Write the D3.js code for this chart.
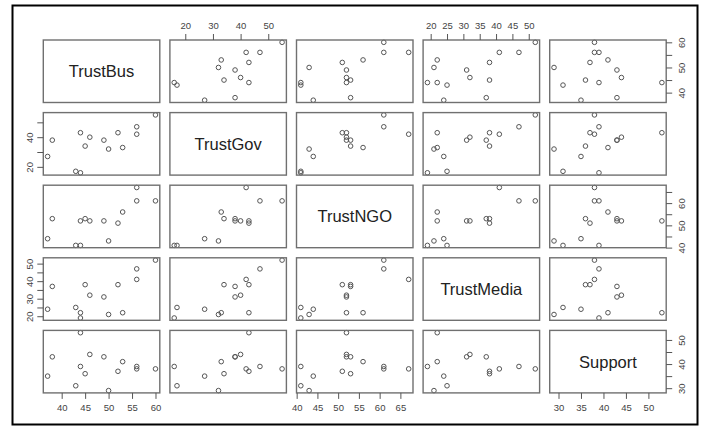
<!DOCTYPE html>
<html>
<head>
<meta charset="utf-8">
<script src="https://cdn.jsdelivr.net/npm/d3@7"></script>
<style>
  html, body { margin: 0; padding: 0; background: #fff; }
  svg { display: block; }
  text { font-family: "Liberation Sans", Arial, sans-serif; }
</style>
</head>
<body>
<svg id="chart" width="704" height="427"></svg>
<script>
// ---- data ----
const varNames = ["TrustBus", "TrustGov", "TrustNGO", "TrustMedia", "Support"];
const trustBus   = [37, 38, 43, 44, 44, 45, 46, 49, 50, 52, 53, 56, 56, 60];
const trustGov   = [27, 38, 17, 43, 16, 34, 40, 38, 32, 43, 33, 47, 42, 55];
const trustNGO   = [44, 53, 41, 52, 41, 53, 52, 52, 43, 51, 56, 61, 67, 61];
const trustMedia = [24, 37, 25, 22, 19, 38, 32, 31, 21, 38, 22, 47, 41, 52];
const support    = [35, 43, 31, 53, 39, 36, 44, 43, 29, 37, 41, 39, 38, 38];

// tick values per variable
const busTicks     = [40, 45, 50, 55, 60];
const govTicks     = [20, 30, 40, 50];
const ngoTicks     = [40, 45, 50, 55, 60, 65];
const mediaTicks   = [20, 25, 30, 35, 40, 45, 50];
const supportTicks = [30, 35, 40, 45, 50];

// labelled ticks on the y axes (x axes label every tick)
const busYLabels     = [40, 50, 60];
const govYLabels     = [20, 40];
const ngoYLabels     = [40, 50, 60];
const mediaYLabels   = [20, 30, 40, 50];
const supportYLabels = [30, 40, 50];

const columns = [trustBus, trustGov, trustNGO, trustMedia, support];
const ticks = [busTicks, govTicks, ngoTicks, mediaTicks, supportTicks];
const yLabels = [busYLabels, govYLabels, ngoYLabels, mediaYLabels, supportYLabels];

// ---- layout ----
const svg = d3.select("#chart");
const leftX = 43.3, topY = 40, pw = 116.5, ph = 62.5, gap = 10.1;
const n = varNames.length;

svg.append("rect").attr("x", 12.5).attr("y", 5.5).attr("width", 685).attr("height", 419)
  .attr("fill", "#fff").attr("stroke", "#000").attr("stroke-width", 2);

function dom(v) {
  const mn = d3.min(v), mx = d3.max(v), r = mx - mn;
  return [mn - 0.04 * r, mx + 0.04 * r];
}

const xScales = columns.map((v, i) => d3.scaleLinear().domain(dom(v))
  .range([leftX + i * (pw + gap), leftX + i * (pw + gap) + pw]));
const yScales = columns.map((v, i) => d3.scaleLinear().domain(dom(v))
  .range([topY + i * (ph + gap) + ph, topY + i * (ph + gap)]));

const tickCol = "#555", labCol = "#444";

for (let r = 0; r < n; r++) {
  for (let c = 0; c < n; c++) {
    const x0 = leftX + c * (pw + gap), y0 = topY + r * (ph + gap);
    const g = svg.append("g");
    if (r === c) {
      g.append("text").attr("x", x0 + pw / 2).attr("y", y0 + ph / 2 + 6)
        .attr("text-anchor", "middle").attr("font-size", 16.5).attr("fill", "#222")
        .text(varNames[r]);
    } else {
      const xs = xScales[c], ys = yScales[r];
      g.selectAll("circle").data(columns[c].map((d, k) => [d, columns[r][k]]))
        .join("circle")
        .attr("cx", d => xs(d[0])).attr("cy", d => ys(d[1])).attr("r", 2.3)
        .attr("fill", "none").attr("stroke", "#555").attr("stroke-width", 1);
    }
    g.append("rect").attr("x", x0).attr("y", y0).attr("width", pw).attr("height", ph)
      .attr("fill", "none").attr("stroke", "#707070").attr("stroke-width", 1.4);
  }
}

function styleAxis(sel) {
  sel.select(".domain").remove();
  sel.selectAll(".tick line").attr("stroke", tickCol).attr("stroke-width", 1);
  sel.selectAll(".tick text").attr("fill", labCol).attr("font-size", 9.5)
    .attr("font-family", "'Liberation Sans', Arial, sans-serif");
}

// x axes: columns 1,3,5 at the bottom, 2,4 at the top
for (let c = 0; c < n; c++) {
  const bottom = (c % 2 === 0);
  const ax = (bottom ? d3.axisBottom(xScales[c]) : d3.axisTop(xScales[c]))
    .tickValues(ticks[c]).tickSize(6).tickPadding(5).tickFormat(d3.format("d"));
  const yPos = bottom ? topY + (n - 1) * (ph + gap) + ph : topY;
  const g = svg.append("g").attr("transform", `translate(0,${yPos})`).call(ax);
  styleAxis(g);
}

// y axes: rows 1,3,5 on the right, 2,4 on the left
for (let r = 0; r < n; r++) {
  const right = (r % 2 === 0);
  const ax = (right ? d3.axisRight(yScales[r]) : d3.axisLeft(yScales[r]))
    .tickValues(ticks[r]).tickSize(6)
    .tickFormat(d => yLabels[r].includes(d) ? String(d) : "");
  const xPos = right ? leftX + (n - 1) * (pw + gap) + pw : leftX;
  const g = svg.append("g").attr("transform", `translate(${xPos},0)`).call(ax);
  styleAxis(g);
  g.selectAll(".tick text")
    .attr("x", null).attr("dy", null)
    .attr("text-anchor", "middle")
    .attr("transform", right ? "translate(15,0) rotate(-90) translate(0,3.3)"
                             : "translate(-14,0) rotate(-90) translate(0,3.3)");
}
</script>
</body>
</html>
